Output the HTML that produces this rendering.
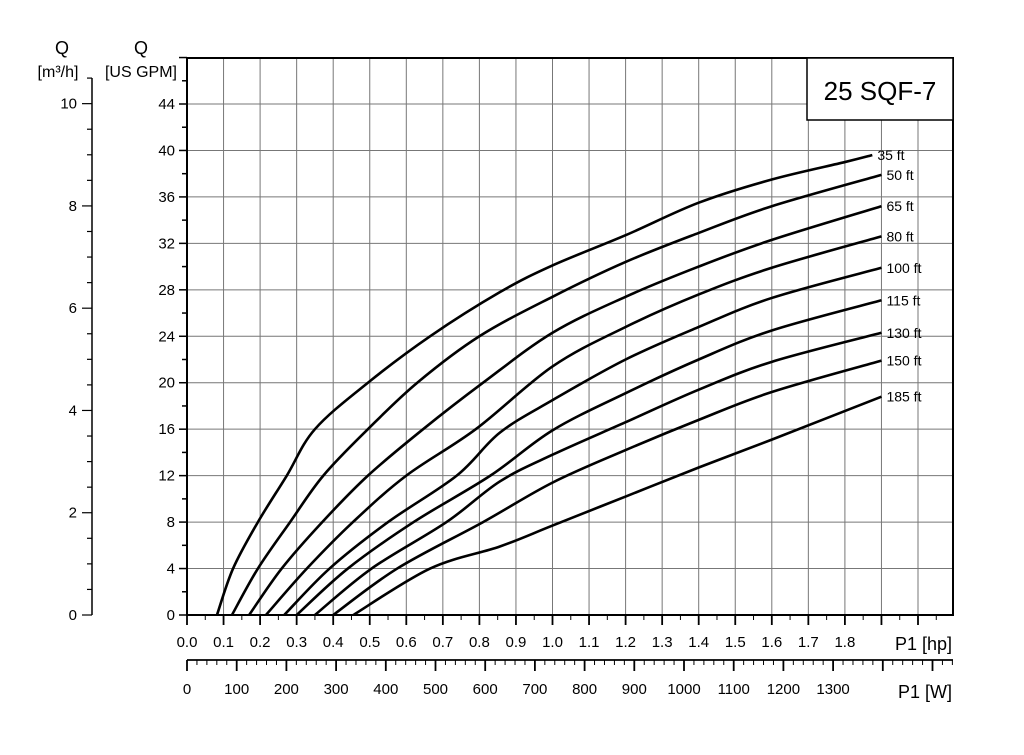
<!DOCTYPE html>
<html><head><meta charset="utf-8"><style>
body{margin:0;background:#fff;}
svg text{font-family:"Liberation Sans",sans-serif;fill:#000;}
</style></head><body>
<svg id="c" width="1024" height="750" viewBox="0 0 1024 750">
<g id="grid"></g>
<g id="axes"></g>
<g id="curves"></g>
<rect x="807" y="58" width="146" height="62" fill="#fff" stroke="#000" stroke-width="1.5"/>
<text x="880" y="100" font-size="26" text-anchor="middle">25 SQF-7</text>
<text x="62" y="54" font-size="18" text-anchor="middle">Q</text>
<text x="58" y="77" font-size="16" text-anchor="middle">[m³/h]</text>
<text x="141" y="54" font-size="18" text-anchor="middle">Q</text>
<text x="141" y="77" font-size="16" text-anchor="middle">[US GPM]</text>
<text x="952" y="650" font-size="18" text-anchor="end">P1 [hp]</text>
<text x="952" y="698" font-size="18" text-anchor="end">P1 [W]</text>
</svg>
<script>
const hpTicks=[0,0.1,0.2,0.3,0.4,0.5,0.6,0.7,0.8,0.9,1.0,1.1,1.2,1.3,1.4,1.5,1.6,1.7,1.8];
const gpmTicks=[0,4,8,12,16,20,24,28,32,36,40,44];
const m3hTicks=[0,2,4,6,8,10];
const wTicks=[0,100,200,300,400,500,600,700,800,900,1000,1100,1200,1300];
const curveNames=["35 ft","50 ft","65 ft","80 ft","100 ft","115 ft","130 ft","150 ft","185 ft"];
const c35=[[0.082,0],[0.126,4],[0.194,8],[0.273,12],[0.35,16],[0.495,20],[0.665,24],[0.856,27.8],[1.0,30.1],[1.2,32.7],[1.4,35.5],[1.6,37.5],[1.8,39.0],[1.875,39.6]];
const c50=[[0.123,0],[0.194,4],[0.282,8],[0.373,12],[0.495,16],[0.63,20],[0.80,24],[1.0,27.4],[1.2,30.4],[1.4,32.9],[1.6,35.2],[1.9,37.9]];
const c65=[[0.17,0],[0.259,4],[0.37,8],[0.495,12],[0.646,16],[0.81,20],[1.0,24.3],[1.2,27.4],[1.4,30.0],[1.6,32.3],[1.9,35.2]];
const c80=[[0.216,0],[0.328,4],[0.454,8],[0.60,12],[0.79,16],[1.0,21.4],[1.2,24.8],[1.4,27.6],[1.6,29.9],[1.9,32.6]];
const c100=[[0.266,0],[0.39,4],[0.55,8],[0.738,12],[0.856,15.7],[1.0,18.5],[1.2,22.0],[1.4,24.8],[1.6,27.3],[1.9,29.9]];
const c115=[[0.30,0],[0.44,4],[0.62,8],[0.83,12],[1.0,15.9],[1.2,19.1],[1.4,22.0],[1.6,24.5],[1.9,27.1]];
const c130=[[0.35,0],[0.505,4],[0.71,8],[0.856,11.5],[1.0,13.8],[1.2,16.6],[1.4,19.4],[1.6,21.8],[1.9,24.3]];
const c150=[[0.40,0],[0.575,4],[0.81,8],[1.0,11.4],[1.2,14.2],[1.4,16.8],[1.6,19.2],[1.9,21.9]];
const c185=[[0.455,0],[0.665,4],[0.856,5.9],[1.0,7.7],[1.2,10.2],[1.4,12.7],[1.6,15.1],[1.9,18.8]];
const curves=[c35,c50,c65,c80,c100,c115,c130,c150,c185];

const NS="http://www.w3.org/2000/svg";
const X0=187,PXHP=365.5,Y0=615,PXG=511/44,PXW=0.497,M3=44.03/10;
const xh=h=>X0+h*PXHP, yg=g=>Y0-g*PXG, xw=w=>X0+w*PXW, ym=m=>Y0-m*M3*PXG;
function mk(p,tag,a){const e=document.createElementNS(NS,tag);for(const k in a)e.setAttribute(k,a[k]);p.appendChild(e);return e;}
const G=document.getElementById('grid'),A=document.getElementById('axes'),C=document.getElementById('curves');
const TOP=58,RIGHT=953;
for(let i=1;i<=20;i++){const l=mk(G,'line',{x1:xh(i/10),x2:xh(i/10),y1:TOP,y2:Y0,stroke:'#777','stroke-width':1});

}
gpmTicks.forEach(g=>{const l=mk(G,'line',{x1:X0,x2:RIGHT,y1:yg(g),y2:yg(g),stroke:'#777','stroke-width':1});

});
const fr=mk(G,'rect',{x:X0,y:TOP,width:RIGHT-X0,height:Y0-TOP,fill:'none',stroke:'#000','stroke-width':2});


for(let g=0;g<=48;g+=2){if(yg(g)<TOP-1)break;mk(A,'line',{x1:X0-(g%4?5:8),x2:X0,y1:yg(g),y2:yg(g),stroke:'#000','stroke-width':1.5});}
gpmTicks.forEach(g=>{const t=mk(A,'text',{x:X0-12,y:yg(g)+5,'font-size':15,'text-anchor':'end'});t.textContent=g;

});
mk(A,'line',{x1:92,x2:92,y1:TOP+20,y2:Y0,stroke:'#000','stroke-width':1.5});
for(let m=0;m<=10.5;m+=0.5){mk(A,'line',{x1:92-(m%2?5:10),x2:92,y1:ym(m),y2:ym(m),stroke:'#000','stroke-width':1.2});}
m3hTicks.forEach(m=>{const t=mk(A,'text',{x:77,y:ym(m)+5,'font-size':15,'text-anchor':'end'});t.textContent=m;

});
for(let i=0;i<=41;i++){const h=i/20;if(xh(h)>RIGHT)break;mk(A,'line',{x1:xh(h),x2:xh(h),y1:Y0,y2:Y0+(i%2?5:10),stroke:'#000','stroke-width':i%2?1:1.8});}
hpTicks.forEach(h=>{const t=mk(A,'text',{x:xh(h),y:647,'font-size':15,'text-anchor':'middle'});t.textContent=h.toFixed(1);

});
mk(A,'line',{x1:X0,x2:RIGHT,y1:660,y2:660,stroke:'#000','stroke-width':1.8});
for(let w=0;w<=1540;w+=20){mk(A,'line',{x1:xw(w),x2:xw(w),y1:660,y2:660+(w%100?5:11),stroke:'#000','stroke-width':w%100?1:1.8});}
wTicks.forEach(w=>{const t=mk(A,'text',{x:xw(w),y:694,'font-size':15,'text-anchor':'middle'});t.textContent=w;

});
function pathOf(pts){const P=pts.map(p=>[xh(p[0]),yg(p[1])]);let d='M'+P[0][0]+','+P[0][1];
for(let i=0;i<P.length-1;i++){const p0=P[i-1]||P[i],p1=P[i],p2=P[i+1],p3=P[i+2]||p2;
d+=' C'+(p1[0]+(p2[0]-p0[0])/6)+','+(p1[1]+(p2[1]-p0[1])/6)+' '+(p2[0]-(p3[0]-p1[0])/6)+','+(p2[1]-(p3[1]-p1[1])/6)+' '+p2[0]+','+p2[1];}return d;}
curves.forEach((pts,i)=>{
const p=mk(C,'path',{d:pathOf(pts),fill:'none',stroke:'#000','stroke-width':2.6});


const e=pts[pts.length-1];
const t=mk(C,'text',{x:xh(e[0])+5,y:yg(e[1])+5,'font-size':14});t.textContent=curveNames[i];


});
</script>
</body></html>
